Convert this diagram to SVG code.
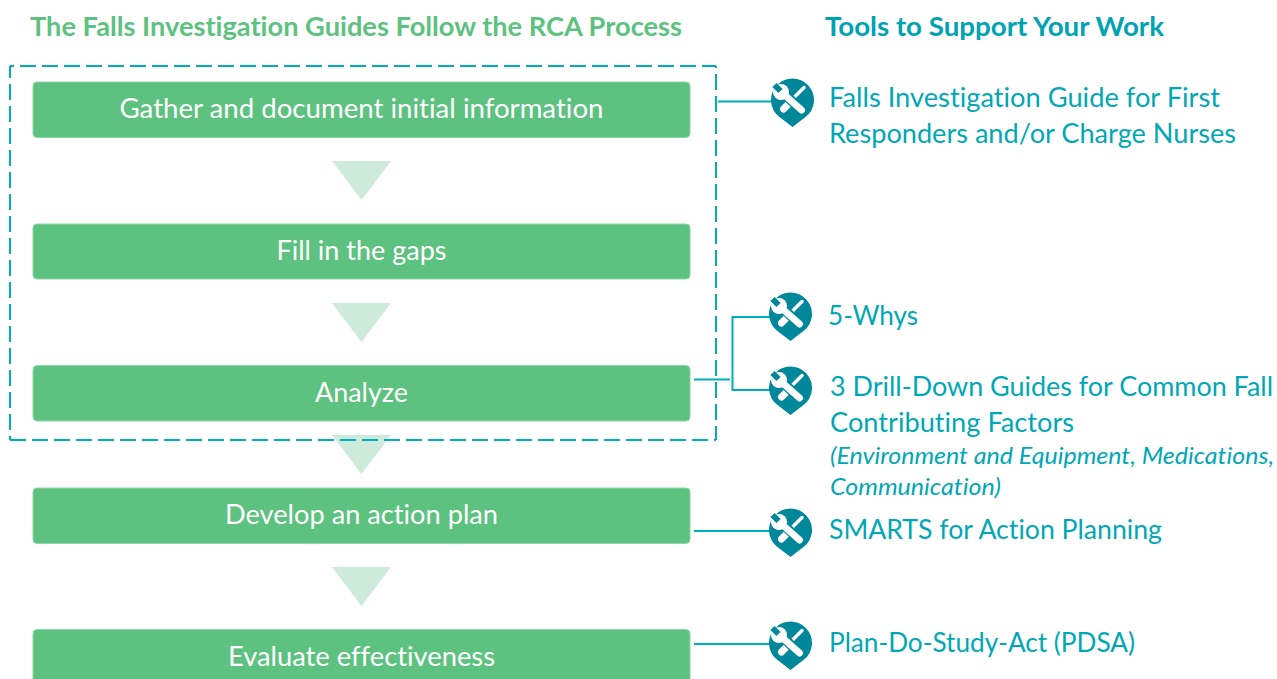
<svg xmlns="http://www.w3.org/2000/svg" width="1277" height="679" viewBox="0 0 1277 679">
<style>
text{font-family:Lato,"Open Sans",sans-serif;font-variant-ligatures:none}
.h{font-size:26px;font-weight:700}
.s{fill:#5dc27f;stroke:#8ed6a6;stroke-width:1}
.st{fill:#fff;font-size:26px;text-anchor:middle}
.t{fill:#00a8b5;font-size:27px}
.i{fill:#00a8b5;font-size:23px;font-style:italic}
.c{fill:none;stroke:#00adbb;stroke-width:2}
.d{fill:none;stroke:#00adbb;stroke-width:2;stroke-dasharray:16 6}
.tri{fill:#cdeada}
.pin{fill:#00889a}
.w{stroke:#fff;fill:none}
</style>
<defs>
<g id="pin">
<path class="pin" d="M0 27 L-13 17.100 A21.500 21.500 0 1 1 13 17.100 Z"/>
<path class="w" stroke-width="3.500" stroke-linecap="round" d="M11.500 -12.500 L2 -3"/>
<path class="w" stroke-width="7" stroke-linecap="round" d="M-3 3 L-9 9"/>
<path d="M-10 -8 L10 11" stroke="#00889a" stroke-width="10" fill="none"/>
<circle cx="-11.500" cy="-8" r="8" fill="#fff"/>
<path d="M-18 -15 L-12 -9" stroke="#00889a" stroke-width="6" fill="none"/>
<path class="w" stroke-width="7" stroke-linecap="round" d="M-9 -6 L9 10"/>
</g>
</defs>
<text class="h" x="30" y="36" fill="#5dc27f" textLength="652" lengthAdjust="spacingAndGlyphs">The Falls Investigation Guides Follow the RCA Process</text>
<text class="h" x="825" y="36" fill="#00a3b2" textLength="339" lengthAdjust="spacingAndGlyphs">Tools to Support Your Work</text>
<g id="arrows">
<path class="tri" d="M332 161H391L361.500 200Z"/>
<path class="tri" d="M332 303H391L361.500 342Z"/>
<path class="tri" d="M332 435H391L361.500 474Z"/>
<path class="tri" d="M332 567H391L361.500 606Z"/>
</g>
<g id="connectors">
<path class="d" stroke-dashoffset="12" d="M10 66H716"/>
<path class="d" stroke-dashoffset="14" d="M716 66V440"/>
<path class="d" d="M10 440H716"/>
<path class="d" stroke-dashoffset="4" d="M10 66V440"/>
<path class="c" d="M718 101.500H772"/>
<path class="c" d="M694 379.500H730M771 317H732.500V390H771"/>
<path class="c" d="M694 531H771"/>
<path class="c" d="M694 644H771"/>
</g>
<g id="step1"><rect class="s" x="33" y="82" width="657" height="55.500" rx="4"/><text class="st" x="361.500" y="118" textLength="484" lengthAdjust="spacingAndGlyphs">Gather and document initial information</text></g>
<g id="step2"><rect class="s" x="33" y="224" width="657" height="55" rx="4"/><text class="st" x="361.500" y="260" textLength="170" lengthAdjust="spacingAndGlyphs">Fill in the gaps</text></g>
<g id="step3"><rect class="s" x="33" y="365.500" width="657" height="55.500" rx="4"/><text class="st" x="361.500" y="402" textLength="93" lengthAdjust="spacingAndGlyphs">Analyze</text></g>
<g id="step4"><rect class="s" x="33" y="488" width="657" height="55.500" rx="4"/><text class="st" x="361.500" y="524" textLength="273" lengthAdjust="spacingAndGlyphs">Develop an action plan</text></g>
<g id="step5"><rect class="s" x="33" y="629.500" width="657" height="60" rx="4"/><text class="st" x="361.500" y="666" textLength="267" lengthAdjust="spacingAndGlyphs">Evaluate effectiveness</text></g>
<g id="tool1"><use href="#pin" x="792.500" y="100"/>
<text class="t" x="829" y="107" textLength="391" lengthAdjust="spacingAndGlyphs">Falls Investigation Guide for First</text>
<text class="t" x="829" y="143" textLength="407" lengthAdjust="spacingAndGlyphs">Responders and/or Charge Nurses</text></g>
<g id="tool2"><use href="#pin" x="790.500" y="314"/>
<text class="t" x="828" y="325" textLength="90" lengthAdjust="spacingAndGlyphs">5-Whys</text></g>
<g id="tool3"><use href="#pin" x="790.500" y="388"/>
<text class="t" x="830" y="396" textLength="443" lengthAdjust="spacingAndGlyphs">3 Drill-Down Guides for Common Fall</text>
<text class="t" x="830" y="432" textLength="244" lengthAdjust="spacingAndGlyphs">Contributing Factors</text>
<text class="i" x="830" y="464" textLength="444" lengthAdjust="spacingAndGlyphs">(Environment and Equipment, Medications,</text>
<text class="i" x="830" y="495" textLength="171" lengthAdjust="spacingAndGlyphs">Communication)</text></g>
<g id="tool4"><use href="#pin" x="790.500" y="530"/>
<text class="t" x="829" y="539" textLength="333" lengthAdjust="spacingAndGlyphs">SMARTS for Action Planning</text></g>
<g id="tool5"><use href="#pin" x="790.500" y="643"/>
<text class="t" x="829" y="652" textLength="306" lengthAdjust="spacingAndGlyphs">Plan-Do-Study-Act (PDSA)</text></g>
</svg>
